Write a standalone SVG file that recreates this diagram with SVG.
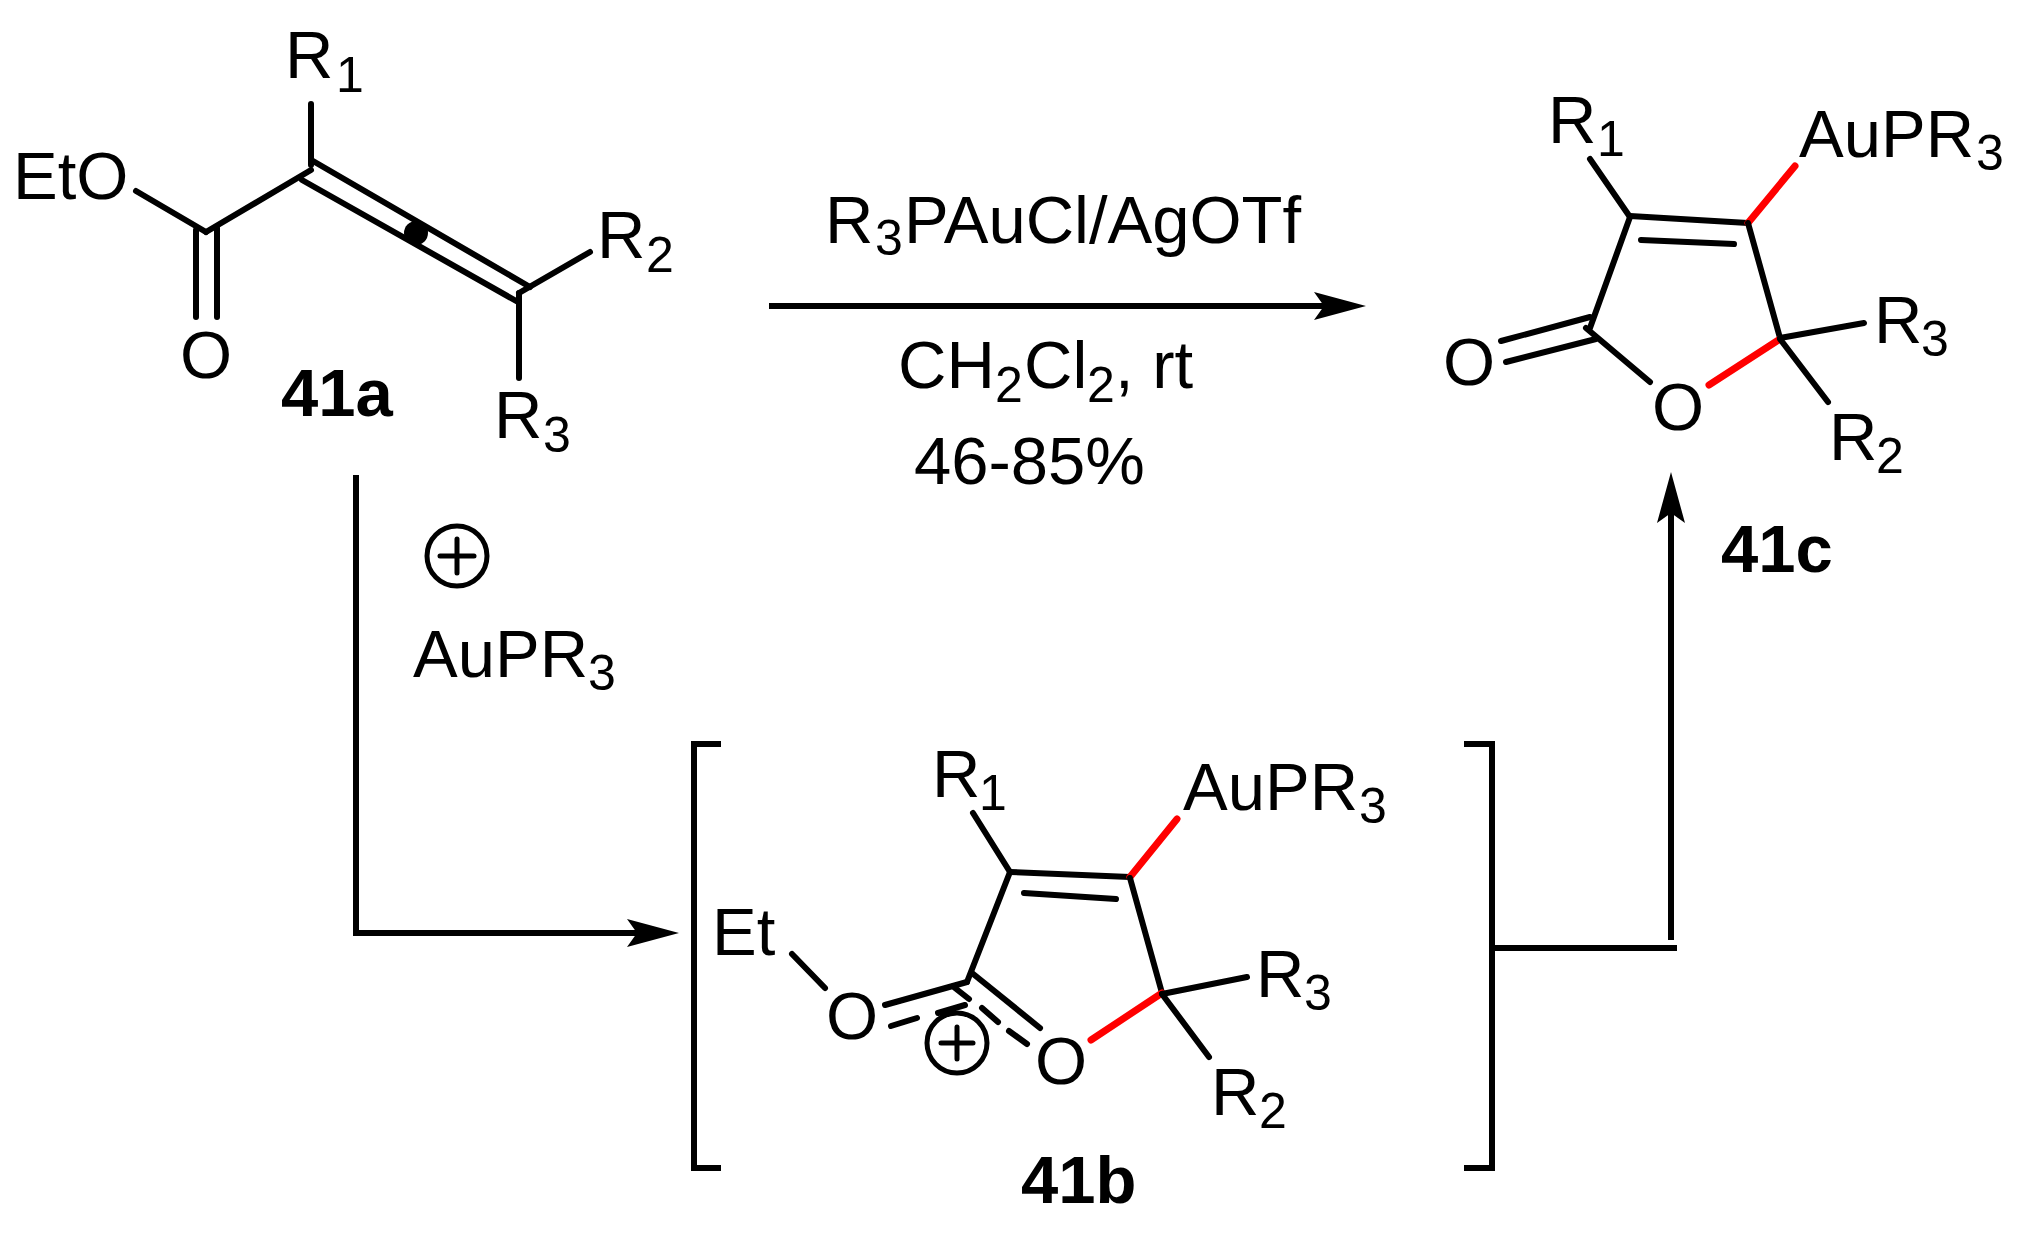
<svg xmlns="http://www.w3.org/2000/svg" width="2033" height="1236" viewBox="0 0 2033 1236">
<style>
text{font-family:"Liberation Sans",Arial,sans-serif;font-size:67px;fill:#000}
.s{font-size:50px}
.b{font-weight:bold}
.c{text-anchor:middle}
line,polyline,circle{fill:none;stroke:#000;stroke-width:6;stroke-linecap:round}
.r{stroke:#f00;stroke-width:7}
.a{stroke-linecap:butt}
.t{stroke-width:5}
polygon{fill:#000}
</style>
<rect width="2033" height="1236" fill="#fff"/>
<g id="connectors">
<line class="a" x1="769" y1="306" x2="1330" y2="306"/>
<polygon points="1366,306 1314,292 1324,306 1314,320"/>
<polyline class="a" points="356,475 356,933 650,933"/>
<polygon points="679,933 627,919 637,933 627,947"/>
<polyline class="a" points="1492,948 1677,948"/>
<line class="a" x1="1671" y1="940" x2="1671" y2="510"/>
<polygon points="1671,472 1657,523 1671,513 1685,523"/>
</g>
<g id="compound-41a">
<line x1="311" y1="104" x2="311" y2="165"/>
<line x1="313" y1="161" x2="530" y2="287"/>
<line x1="302" y1="180" x2="518" y2="302"/>
<line x1="311" y1="170" x2="206" y2="232"/>
<line x1="136" y1="191" x2="206" y2="232"/>
<line x1="196" y1="230" x2="196" y2="317"/>
<line x1="217" y1="228" x2="217" y2="317"/>
<line x1="519" y1="293" x2="590" y2="252"/>
<line x1="519" y1="293" x2="519" y2="378"/>
<circle cx="416" cy="233" r="12" style="fill:#000;stroke:none"/>
<text x="285" y="78">R</text><text class="s" x="336" y="92">1</text>
<text x="13" y="199">EtO</text>
<text class="c" x="206" y="378">O</text>
<text x="597" y="258">R</text><text class="s" x="646" y="272">2</text>
<text x="494" y="438">R</text><text class="s" x="543" y="452">3</text>
<text class="b" x="281" y="416">41a</text>
</g>
<g id="compound-41c">
<line x1="1590" y1="159" x2="1630" y2="217"/>
<line x1="1630" y1="216" x2="1748" y2="223"/>
<line x1="1641" y1="240" x2="1734" y2="244"/>
<line class="r" x1="1748" y1="223" x2="1795" y2="166"/>
<line x1="1748" y1="223" x2="1780" y2="338"/>
<line x1="1630" y1="217" x2="1590" y2="328"/>
<line x1="1586" y1="328" x2="1650" y2="382"/>
<line x1="1590" y1="317" x2="1501" y2="341"/>
<line x1="1596" y1="339" x2="1506" y2="362"/>
<line class="r" x1="1780" y1="339" x2="1709" y2="385"/>
<line x1="1780" y1="338" x2="1864" y2="323"/>
<line x1="1780" y1="339" x2="1828" y2="402"/>
<text x="1548" y="143">R</text><text class="s" x="1597" y="156">1</text>
<text x="1799" y="157">AuPR</text><text class="s" x="1976" y="170">3</text>
<text class="c" x="1469" y="385">O</text>
<text class="c" x="1678" y="430">O</text>
<text x="1874" y="343">R</text><text class="s" x="1921" y="356">3</text>
<text x="1829" y="460">R</text><text class="s" x="1876" y="473">2</text>
<text class="b" x="1721" y="572">41c</text>
</g>
<g id="reagents">
<text x="825" y="243">R</text><text class="s" x="875" y="255">3</text><text x="904" y="243">PAuCl/AgOTf</text>
<text x="898" y="388">CH</text><text class="s" x="995" y="402">2</text><text x="1024" y="388">Cl</text><text class="s" x="1087" y="402">2</text><text x="1115" y="388">, rt</text>
<text x="914" y="484">46-85%</text>
</g>
<g id="gold-cation">
<circle class="t" cx="457" cy="556" r="30"/>
<line class="t" x1="440" y1="556" x2="474" y2="556"/>
<line class="t" x1="457" y1="539" x2="457" y2="573"/>
<text x="413" y="677">AuPR</text><text class="s" x="588" y="690">3</text>
</g>
<g id="compound-41b">
<polyline class="a" points="721,744 694,744 694,1168 721,1168"/>
<polyline class="a" points="1464,744 1492,744 1492,1168 1464,1168"/>
<line x1="973" y1="813" x2="1010" y2="872"/>
<line x1="1010" y1="872" x2="1130" y2="877"/>
<line x1="1024" y1="893" x2="1116" y2="899"/>
<line class="r" x1="1130" y1="877" x2="1177" y2="819"/>
<line x1="1130" y1="878" x2="1162" y2="993"/>
<line x1="1010" y1="872" x2="967" y2="982"/>
<line x1="972" y1="973" x2="1040" y2="1028"/>
<line x1="885" y1="1005" x2="967" y2="982"/>
<line x1="891" y1="1026" x2="917" y2="1018"/>
<line x1="938" y1="1013" x2="965" y2="1005"/>
<line x1="955" y1="988" x2="969" y2="999"/>
<line x1="982" y1="1008" x2="998" y2="1022"/>
<line x1="1009" y1="1031" x2="1027" y2="1044"/>
<line x1="792" y1="954" x2="825" y2="988"/>
<line class="r" x1="1162" y1="993" x2="1091" y2="1040"/>
<line x1="1162" y1="994" x2="1247" y2="977"/>
<line x1="1162" y1="994" x2="1209" y2="1057"/>
<circle class="t" cx="957" cy="1043" r="30"/>
<line class="t" x1="941" y1="1043" x2="973" y2="1043"/>
<line class="t" x1="957" y1="1027" x2="957" y2="1059"/>
<text x="932" y="797">R</text><text class="s" x="979" y="810">1</text>
<text x="1183" y="810">AuPR</text><text class="s" x="1359" y="823">3</text>
<text x="712" y="955">Et</text>
<text class="c" x="852" y="1039">O</text>
<text class="c" x="1061" y="1084">O</text>
<text x="1256" y="997">R</text><text class="s" x="1304" y="1010">3</text>
<text x="1211" y="1115">R</text><text class="s" x="1259" y="1128">2</text>
<text class="b" x="1021" y="1203">41b</text>
</g>
</svg>
